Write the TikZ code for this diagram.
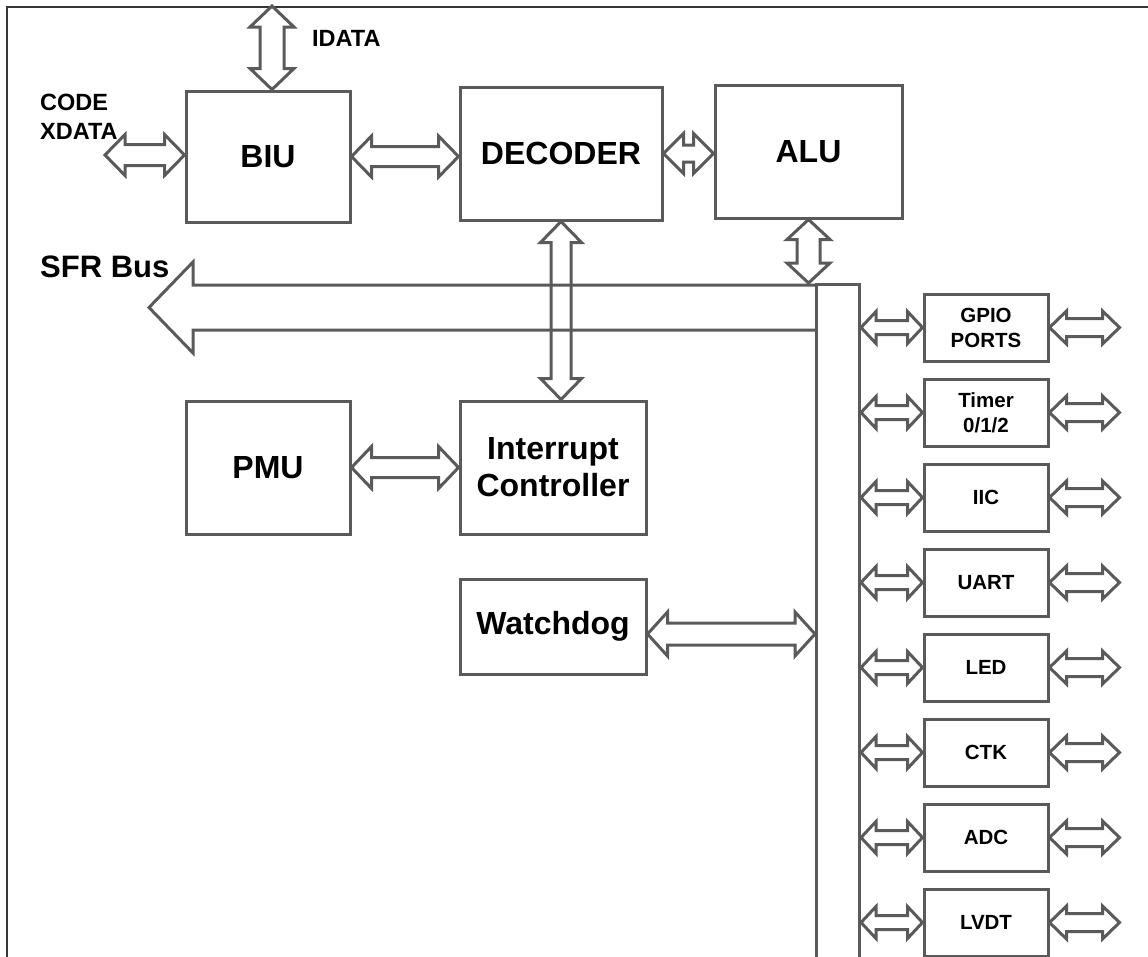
\documentclass[tikz,border=0pt]{standalone}
\usepackage{fontspec}
\setmainfont{Liberation Sans}
\usetikzlibrary{calc,positioning}
\definecolor{lgray}{RGB}{90,90,90}
\definecolor{fgray}{RGB}{55,55,55}
% hollow double arrow: from, to, shaft half width, head half width, head length
\newcommand{\dbus}[5]{%
  \draw[busline] (#1) -- ($(#1)!#5!(#2)!#4!90:(#2)$) -- ($(#1)!#5!(#2)!#3!90:(#2)$)
    -- ($(#2)!#5!(#1)!#3!-90:(#1)$) -- ($(#2)!#5!(#1)!#4!-90:(#1)$) -- (#2)
    -- ($(#2)!#5!(#1)!#4!90:(#1)$) -- ($(#2)!#5!(#1)!#3!90:(#1)$)
    -- ($(#1)!#5!(#2)!#3!-90:(#2)$) -- ($(#1)!#5!(#2)!#4!-90:(#2)$) -- cycle;}
\tikzset{
  blk/.style={draw=lgray, line width=3pt, inner sep=0pt, align=center,
    font=\fontsize{32}{37}\selectfont\bfseries},
  iobox/.style={draw=lgray, line width=3pt, inner sep=0pt, align=center,
    minimum width=124pt, minimum height=67pt,
    font=\fontsize{20.5}{25}\selectfont\bfseries},
  busline/.style={draw=lgray, line width=3pt, line join=miter, fill=white},
  lbl/.style={inner sep=0pt, align=left, font=\fontsize{23.5}{29}\selectfont\bfseries}
}
\begin{document}
\begin{tikzpicture}[x=1pt, y=-1pt]
    \useasboundingbox (0,0) rectangle (1148,956);
    \clip (0,0) rectangle (1148,956);
    \draw[fgray, line width=2pt] (7,7) rectangle (1180,990);

    \node[blk, minimum width=164pt, minimum height=131pt] (biu) at (268,156.5) {BIU};
    \node[blk, minimum width=202pt, minimum height=133pt] (dec) at (561,153.5) {DECODER};
    \node[blk, minimum width=187pt, minimum height=133pt] (alu) at (808.5,151.5) {ALU};
    \node[blk, minimum width=164pt, minimum height=133pt] (pmu) at (268,467.5) {PMU};
    \node[blk, minimum width=186pt, minimum height=133pt] (irq) at (553,467.5) {Interrupt\\Controller};
    \node[blk, minimum width=186pt, minimum height=95pt] (wdg) at (553,626.5) {Watchdog};
    \node[draw=lgray, line width=3pt, inner sep=0pt, minimum width=43pt, minimum height=720pt,
      anchor=north west] (bus) at (815,283) {};

    \coordinate (idata) at (272,6);
    \coordinate (xdata) at (105,155);
    \node[lbl, anchor=base west] at (312,46) {IDATA};
    \node[lbl, anchor=north west] at (40,93.5) {CODE\\XDATA};

    \dbus{idata}{idata |- biu.north}{12pt}{22pt}{21pt}
    \dbus{xdata}{xdata -| biu.west}{10.5pt}{20.5pt}{20pt}
    \dbus{biu.east}{dec.west |- biu.east}{10pt}{20.5pt}{20pt}
    \dbus{dec.east}{alu.west |- dec.east}{8.5pt}{20pt}{20pt}
    \dbus{dec.south}{dec.south |- irq.north}{10pt}{20.5pt}{21pt}
    \dbus{alu.south}{alu.south |- bus.north}{11.5pt}{21.5pt}{20pt}
    \dbus{pmu.east}{irq.west}{10pt}{21pt}{20pt}
    \coordinate (wd) at ($(wdg.east)+(0,7.5)$);
    \dbus{wd}{wd -| bus.west}{11pt}{22pt}{20pt}

    % SFR bus runs over the decoder arrow
    \draw[lgray, line width=3pt, line join=miter] (815,285) -- (193,285) -- (193,262)
      -- (149,307.5) -- (193,353) -- (193,330) -- (815,330);
    \node[lbl, anchor=base west] at (40,277) {\fontsize{31}{36}\selectfont SFR Bus};

    \foreach \name/\txt [count=\i from 0] in
      {gpio/{GPIO\\PORTS}, tmr/{Timer\\{0/1/2}}, iic/IIC, uart/UART,
       led/LED, ctk/CTK, adc/ADC, lvdt/LVDT}
    {
        \node[iobox] (\name) at (986,327.5+85*\i) {\txt};
        \coordinate (\name-l) at (bus.east |- \name.west);
        \coordinate (\name-r) at ($(\name.east)+(70,0)$);
        \dbus{\name-l}{\name.west}{7pt}{16pt}{15pt}
        \dbus{\name.east}{\name-r}{9pt}{16.5pt}{17pt}
    }
\end{tikzpicture}
\end{document}
